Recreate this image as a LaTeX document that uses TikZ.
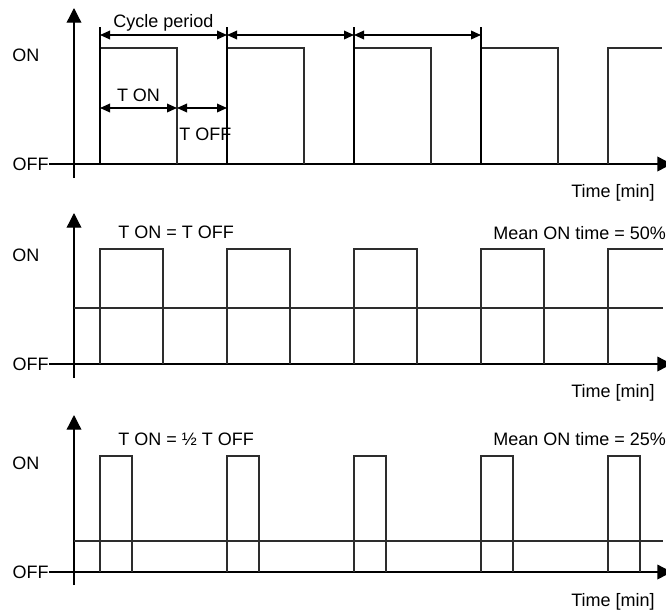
\documentclass[tikz,border=0pt]{standalone}
\usepackage{fontspec}
\setmainfont{Liberation Sans}
\usetikzlibrary{arrows.meta, positioning}
\definecolor{pulsegray}{RGB}{45,45,45}

\tikzset{
  lbl/.style={font=\fontsize{13.5}{16}\selectfont, inner sep=0pt},
  axisline/.style={line width=1pt, -{Triangle[length=11pt,width=11pt]}},
  pulse/.style={line width=0.9pt, pulsegray},
  marker/.style={line width=0.9pt},
  span/.style={line width=1pt, {Triangle[length=7.5pt,width=6.5pt]}-{Triangle[length=7.5pt,width=6.5pt]}},
}

\begin{document}
\begin{tikzpicture}[x=0.75pt, y=-0.75pt]
        \useasboundingbox (0,0) rectangle (666,614);
        % Panel 1 — cycle period, T ON and T OFF
        \coordinate (yA0) at (74,178);
        \coordinate (yA1) at (74,8);
        \draw[axisline] (yA0) -- (yA1);
        \node[lbl, anchor=west] (onA) at (12,55) {ON};
        \node[lbl, anchor=east] (offA) at (49,164) {OFF};
        \coordinate (xA1) at (672,164);
        \draw[axisline] (offA.east) -- (xA1);
        \foreach \x in {100,227,354,481}
          \draw[pulse] (\x,164) -- (\x,48) -- (\x+77,48) -- (\x+77,164);
        \draw[pulse] (608,164) -- (608,48) -- (662,48);
        \foreach \x/\n in {100/a,227/b,354/c,481/d} {
          \coordinate (m\n) at (\x,27);
          \coordinate (p\n) at (\x,35);
          \draw[marker] (m\n) -- (\x,164);
        }
        \draw[span] (pa) -- (pb) node[lbl, midway, above=2.5pt] (cycle) {Cycle period};
        \draw[span] (pb) -- (pc);
        \draw[span] (pc) -- (pd);
        \coordinate (tonL) at (100,108);
        \coordinate (tonR) at (177,108);
        \coordinate (toffR) at (227,108);
        \draw[span] (tonL) -- (tonR) node[lbl, midway, above=4pt] (ton) {T ON};
        \draw[span] (tonR) -- (toffR);
        \node[lbl, anchor=north west] (toff) at (179,128) {T OFF};
        \node[lbl, anchor=east] (timeA) at (655,193) {Time [min]};

        % Panel 2 — T ON = T OFF
        \coordinate (yB0) at (74,378);
        \coordinate (yB1) at (74,213);
        \draw[axisline] (yB0) -- (yB1);
        \node[lbl, anchor=west] (onB) at (12,255) {ON};
        \node[lbl, anchor=east] (offB) at (49,364) {OFF};
        \coordinate (xB1) at (672,364);
        \draw[axisline] (offB.east) -- (xB1);
        \foreach \x in {100,227,354,481}
          \draw[pulse] (\x,364) -- (\x,249) -- (\x+63,249) -- (\x+63,364);
        \draw[pulse] (608,364) -- (608,249) -- (663,249);
        \coordinate (meanB0) at (74,308);
        \coordinate (meanB1) at (663,308);
        \draw[pulse] (meanB0) -- (meanB1);
        \node[lbl, anchor=west] (ruleB) at (118,232) {T ON = T OFF};
        \node[lbl, anchor=west] (meanB) at (493,233) {Mean ON time = 50\%};
        \node[lbl, anchor=east] (timeB) at (655,393) {Time [min]};

        % Panel 3 — T ON = half T OFF
        \coordinate (yC0) at (74,585);
        \coordinate (yC1) at (74,415);
        \draw[axisline] (yC0) -- (yC1);
        \node[lbl, anchor=west] (onC) at (12,463) {ON};
        \node[lbl, anchor=east] (offC) at (49,572) {OFF};
        \coordinate (xC1) at (672,572);
        \draw[axisline] (offC.east) -- (xC1);
        \foreach \x in {100,227,354,481,608}
          \draw[pulse] (\x,572) -- (\x,456) -- (\x+32,456) -- (\x+32,572);
        \coordinate (meanC0) at (74,541);
        \coordinate (meanC1) at (663,541);
        \draw[pulse] (meanC0) -- (meanC1);
        \node[lbl, anchor=west] (ruleC) at (118,439) {T ON = ½ T OFF};
        \node[lbl, anchor=west] (meanC) at (493,439) {Mean ON time = 25\%};
        \node[lbl, anchor=east] (timeC) at (655,602) {Time [min]};
      \end{tikzpicture}
\end{document}
